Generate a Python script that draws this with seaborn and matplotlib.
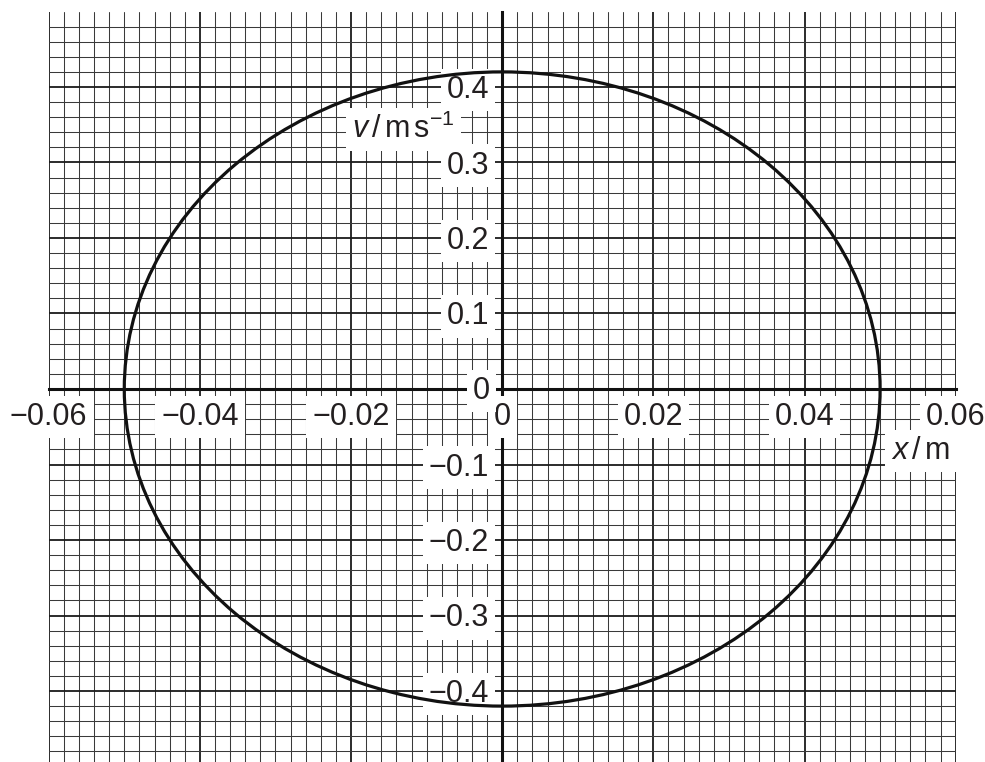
import matplotlib
matplotlib.use("Agg")
import matplotlib.pyplot as plt
import seaborn as sns
import numpy as np
from matplotlib.patches import Ellipse
from matplotlib.ticker import MultipleLocator

# ---- data ----
x_tick_values = [-0.06, -0.04, -0.02, 0.0, 0.02, 0.04, 0.06]
x_tick_labels = ["\u22120.06", "\u22120.04", "\u22120.02", "0", "0.02", "0.04", "0.06"]
y_tick_values = [-0.4, -0.3, -0.2, -0.1, 0.0, 0.1, 0.2, 0.3, 0.4]
y_tick_labels = ["\u22120.4", "\u22120.3", "\u22120.2", "\u22120.1", "0", "0.1", "0.2", "0.3", "0.4"]
# extreme points of the closed curve (x / m, v / m s^-1)
curve_x = [-0.05, 0.0, 0.05, 0.0]
curve_v = [0.0, 0.42, 0.0, -0.42]

sns.set_style("white")
plt.rcParams["font.family"] = ["Liberation Sans", "DejaVu Sans"]
plt.rcParams["mathtext.fontset"] = "custom"
plt.rcParams["mathtext.rm"] = "Liberation Sans"
plt.rcParams["mathtext.it"] = "Liberation Sans:italic"

fig = plt.figure(figsize=(9.85, 7.62), dpi=100)
W, H = 985, 762
left_px, right_px, top_px = 48.7, 955.7, 11.5
px_per_y = 755.0
ax = fig.add_axes([left_px / W, (H - top_px - px_per_y) / H,
                   (right_px - left_px) / W, px_per_y / H])
ax.set_xlim(-0.06, 0.06)
ax.set_ylim(-0.5, 0.5)

ax.xaxis.set_major_locator(MultipleLocator(0.02))
ax.xaxis.set_minor_locator(MultipleLocator(0.002))
ax.yaxis.set_major_locator(MultipleLocator(0.1))
ax.yaxis.set_minor_locator(MultipleLocator(0.02))
ax.set_axisbelow(True)
ax.grid(which="minor", color="#3a3a3a", linewidth=0.75)
ax.grid(which="major", color="#1a1a1a", linewidth=1.3)
for ln in ax.get_xgridlines() + ax.get_ygridlines():
    ln.set_clip_on(False)

for s in ["top", "right"]:
    ax.spines[s].set_visible(False)
ax.spines["left"].set_position(("data", 0))
ax.spines["bottom"].set_position(("data", 0))
for s in ["left", "bottom"]:
    ax.spines[s].set_linewidth(2.2)
    ax.spines[s].set_color("#111111")
ax.tick_params(which="major", direction="out", length=8, width=1.6, color="#111111",
               labelbottom=False, labelleft=False)
ax.tick_params(which="minor", length=0)

# curve
cx = float(np.mean([min(curve_x), max(curve_x)]))
cy = float(np.mean([min(curve_v), max(curve_v)]))
ell = Ellipse((cx, cy), width=max(curve_x) - min(curve_x), height=max(curve_v) - min(curve_v),
              fill=False, edgecolor="#111111", linewidth=2.3, zorder=6, transform=ax.transData)
ax.add_patch(ell)

fs = 22
txt_col = "#231f20"
box = dict(boxstyle="square,pad=0.2", facecolor="white", edgecolor="none")
for xv, lab in zip(x_tick_values, x_tick_labels):
    ax.annotate(lab, xy=(xv, 0), xytext=(0, -36), textcoords="offset pixels",
                ha="center", va="baseline", fontsize=fs, color=txt_col,
                bbox=box, zorder=4, annotation_clip=False)
for yv, lab in zip(y_tick_values, y_tick_labels):
    off = (-12, -10) if yv == 0 else (-13, -11)
    ax.annotate(lab, xy=(0, yv), xytext=off, textcoords="offset pixels",
                ha="right", va="baseline", fontsize=fs, color=txt_col,
                bbox=box, zorder=4, annotation_clip=False)

ax.text(0.0515, -0.0927, r"$x\,/\,\mathrm{m}$", fontsize=fs, ha="left", va="baseline",
        color=txt_col, bbox=box, zorder=4)
ax.text(-0.0199, 0.3325, r"$v\,/\,\mathrm{m\,s^{-1}}$", fontsize=fs, ha="left", va="baseline",
        color=txt_col, bbox=box, zorder=4)

fig.savefig("out.png", dpi=100)
